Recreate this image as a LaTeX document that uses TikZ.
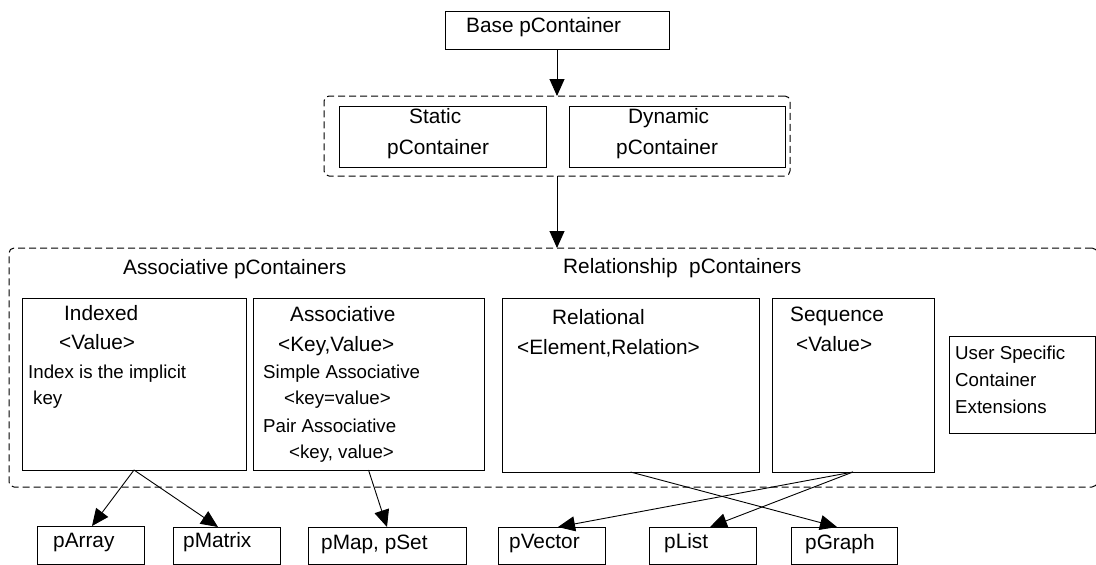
\documentclass[tikz,border=0pt]{standalone}
\usepackage{fontspec}
\setmainfont{Liberation Sans}
\usetikzlibrary{arrows.meta}
\newcommand\fbig{\fontsize{20.8}{25}\selectfont}
\newcommand\fsml{\fontsize{18.7}{22}\selectfont}
\begin{document}
\begin{tikzpicture}[x=1pt,y=-1pt,
  box/.style={draw, line width=1pt, inner sep=0pt, outer sep=0pt},
  group/.style={draw, line width=1pt, dash pattern=on 7pt off 4pt, rounded corners=5pt, inner sep=0pt, outer sep=0pt},
  lbl/.style={anchor=base west, inner sep=0pt, font=\fbig},
  sml/.style={anchor=base west, inner sep=0pt, font=\fsml},
  conn/.style={-{Triangle[length=17pt,width=15pt]}, line width=0.9pt}]
\useasboundingbox (0,0) rectangle (1096,565);

% top level
\node[box, minimum width=224pt, minimum height=38pt] (base) at (557,30) {};
\node[lbl] (baseT) at (466,32) {Base pContainer};

% static / dynamic group
\node[group, minimum width=466pt, minimum height=80pt] (sdgrp) at (557,136) {};
\node[box, minimum width=207pt, minimum height=61pt] (static) at (442.5,136.5) {};
\node[box, minimum width=216pt, minimum height=61pt] (dynamic) at (677,136.5) {};
\node[lbl] (staticA) at (409,123) {Static};
\node[lbl] (staticB) at (387,154) {pContainer};
\node[lbl] (dynamicA) at (628,123) {Dynamic};
\node[lbl] (dynamicB) at (616,154) {pContainer};

% container families
\node[group, minimum width=1088pt, minimum height=239pt] (family) at (553,367.5) {};
\node[lbl] (assocTitle) at (123,274) {Associative pContainers};
\node[lbl] (relTitle) at (563,273) {Relationship\ \ pContainers};

\node[box, minimum width=224pt, minimum height=172pt] (indexed) at (134,384) {};
\node[lbl] (indexedA) at (64,320) {Indexed};
\node[lbl] (indexedB) at (59,349) {<Value>};
\node[sml] (indexedC) at (28,378) {Index is the implicit};
\node[sml] (indexedD) at (33,404) {key};

\node[box, minimum width=231pt, minimum height=172pt] (assoc) at (368.5,384) {};
\node[lbl] (assocA) at (290,321) {Associative};
\node[lbl] (assocB) at (278,351) {<Key,Value>};
\node[sml] (assocC) at (263,378) {Simple Associative};
\node[sml] (assocD) at (284,404) {<key=value>};
\node[sml] (assocE) at (263,432) {Pair Associative};
\node[sml] (assocF) at (289,458) {<key, value>};

\node[box, minimum width=257pt, minimum height=174pt] (relational) at (630.5,385) {};
\node[lbl] (relA) at (552,324) {Relational};
\node[lbl] (relB) at (517,354) {<Element,Relation>};

\node[box, minimum width=162pt, minimum height=174pt] (sequence) at (853,385) {};
\node[lbl] (seqA) at (790,321) {Sequence};
\node[lbl] (seqB) at (796,351) {<Value>};

\node[box, minimum width=146pt, minimum height=97pt] (user) at (1022,384.5) {};
\node[sml] (userA) at (955,359) {User Specific};
\node[sml] (userB) at (955,386) {Container};
\node[sml] (userC) at (955,413) {Extensions};

% concrete containers
\node[box, minimum width=107pt, minimum height=38pt] (parray) at (90.5,545) {};
\node[lbl] (parrayT) at (53,547) {pArray};
\node[box, minimum width=107pt, minimum height=37pt] (pmatrix) at (226.5,545.5) {};
\node[lbl] (pmatrixT) at (183,547) {pMatrix};
\node[box, minimum width=158pt, minimum height=37pt] (pmap) at (387,545.5) {};
\node[lbl] (pmapT) at (321,549) {pMap, pSet};
\node[box, minimum width=107pt, minimum height=37pt] (pvector) at (551.5,545.5) {};
\node[lbl] (pvectorT) at (509,548) {pVector};
\node[box, minimum width=107pt, minimum height=37pt] (plist) at (702.5,545.5) {};
\node[lbl] (plistT) at (664,548) {pList};
\node[box, minimum width=106pt, minimum height=37pt] (pgraph) at (844,545.5) {};
\node[lbl] (pgraphT) at (805,549) {pGraph};

% connectors
\draw[conn] (base.south) -- (sdgrp.north);
\draw[conn] (sdgrp.south) -- (sdgrp.south |- family.north);
\draw[conn] (indexed.south) -- ([xshift=1.5pt]parray.north);
\draw[conn] (indexed.south) -- ([xshift=-8.5pt]pmatrix.north);
\draw[conn] (assoc.south) -- (pmap.north);
\draw[conn] (relational.south) -- ([xshift=-7pt]pgraph.north);
\draw[conn] (sequence.south) -- ([xshift=6.5pt]pvector.north);
\draw[conn] (sequence.south) -- ([xshift=7.5pt]plist.north);
\end{tikzpicture}
\end{document}
